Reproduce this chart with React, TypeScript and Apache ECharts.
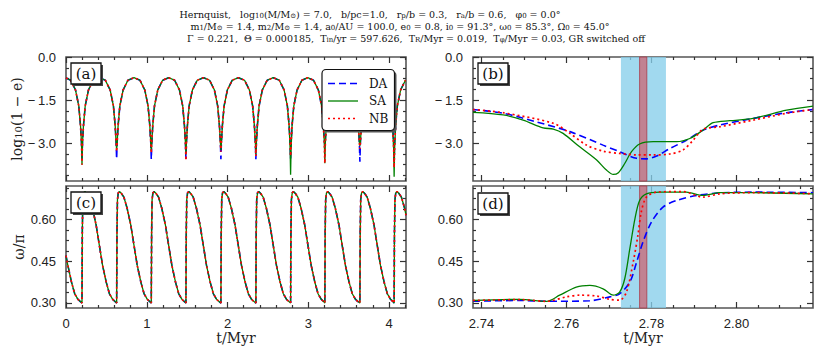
import React, { useEffect, useRef } from "react";
import * as echarts from "echarts";

// ---------- panel (a): log10(1-e) over the full run ----------
const tA = [
  0, 0.058, 0.118, 0.158, 0.18, 0.192, 0.198,
  0.204, 0.216, 0.238, 0.278, 0.338, 0.413,
  0.487, 0.547, 0.587, 0.609, 0.621, 0.627,
  0.633, 0.645, 0.667, 0.707, 0.767, 0.842,
  0.916, 0.976, 1.016, 1.038, 1.05, 1.056,
  1.062, 1.074, 1.096, 1.136, 1.196, 1.271,
  1.345, 1.405, 1.445, 1.467, 1.479, 1.485,
  1.491, 1.503, 1.525, 1.565, 1.625, 1.702,
  1.778, 1.838, 1.878, 1.9, 1.912, 1.918,
  1.924, 1.936, 1.958, 1.998, 2.058, 2.135,
  2.211, 2.271, 2.311, 2.333, 2.345, 2.351,
  2.357, 2.369, 2.391, 2.431, 2.491, 2.566,
  2.641, 2.701, 2.741, 2.763, 2.775, 2.781,
  2.787, 2.799, 2.821, 2.861, 2.921, 2.993,
  3.065, 3.125, 3.165, 3.187, 3.199, 3.205,
  3.211, 3.223, 3.245, 3.285, 3.345, 3.422,
  3.499, 3.559, 3.599, 3.621, 3.633, 3.639,
  3.645, 3.657, 3.679, 3.719, 3.779, 3.851,
  3.923, 3.983, 4.023, 4.045, 4.057, 4.063,
  4.069, 4.081, 4.103, 4.143, 4.203, 4.21,
];
const logeSA = [
  -0.73, -0.81, -1.15, -1.7, -2.4, -3.0, -3.75,
  -3.0, -2.4, -1.7, -1.15, -0.81, -0.72,
  -0.81, -1.15, -1.7, -2.4, -3.0, -3.24,
  -3.0, -2.4, -1.7, -1.15, -0.81, -0.72,
  -0.81, -1.15, -1.7, -2.4, -3.0, -3.3,
  -3.0, -2.4, -1.7, -1.15, -0.81, -0.72,
  -0.81, -1.15, -1.7, -2.4, -3.0, -3.4,
  -3.0, -2.4, -1.7, -1.15, -0.81, -0.72,
  -0.81, -1.15, -1.7, -2.4, -3.0, -3.24,
  -3.0, -2.4, -1.7, -1.15, -0.81, -0.72,
  -0.81, -1.15, -1.7, -2.4, -3.0, -3.4,
  -3.0, -2.4, -1.7, -1.15, -0.81, -0.72,
  -0.81, -1.15, -1.7, -2.4, -3.2, -4.1,
  -3.2, -2.4, -1.7, -1.15, -0.81, -0.72,
  -0.81, -1.15, -1.7, -2.4, -3.0, -3.7,
  -3.0, -2.4, -1.7, -1.15, -0.81, -0.72,
  -0.81, -1.15, -1.7, -2.4, -3.0, -3.1,
  -3.0, -2.4, -1.7, -1.15, -0.81, -0.72,
  -0.81, -1.15, -1.7, -2.4, -3.2, -4.17,
  -3.2, -2.4, -1.7, -1.15, -0.81, -0.8,
];
const logeDA = [
  -0.73, -0.81, -1.15, -1.7, -2.4, -3.0, -3.6,
  -3.0, -2.4, -1.7, -1.15, -0.81, -0.72,
  -0.81, -1.15, -1.7, -2.4, -3.0, -3.56,
  -3.0, -2.4, -1.7, -1.15, -0.81, -0.72,
  -0.81, -1.15, -1.7, -2.4, -3.0, -3.56,
  -3.0, -2.4, -1.7, -1.15, -0.81, -0.72,
  -0.81, -1.15, -1.7, -2.4, -3.0, -3.55,
  -3.0, -2.4, -1.7, -1.15, -0.81, -0.72,
  -0.81, -1.15, -1.7, -2.4, -3.0, -3.56,
  -3.0, -2.4, -1.7, -1.15, -0.81, -0.72,
  -0.81, -1.15, -1.7, -2.4, -3.0, -3.56,
  -3.0, -2.4, -1.7, -1.15, -0.81, -0.72,
  -0.81, -1.15, -1.7, -2.4, -3.0, -3.55,
  -3.0, -2.4, -1.7, -1.15, -0.81, -0.72,
  -0.81, -1.15, -1.7, -2.4, -2.9, -3.1,
  -2.9, -2.4, -1.7, -1.15, -0.81, -0.72,
  -0.81, -1.15, -1.7, -2.4, -3.0, -3.65,
  -3.0, -2.4, -1.7, -1.15, -0.81, -0.72,
  -0.81, -1.15, -1.7, -2.4, -3.0, -3.6,
  -3.0, -2.4, -1.7, -1.15, -0.81, -0.8,
];
const logeNB = [
  -0.73, -0.81, -1.15, -1.7, -2.4, -3.0, -3.75,
  -3.0, -2.4, -1.7, -1.15, -0.81, -0.72,
  -0.81, -1.15, -1.7, -2.4, -3.0, -3.3,
  -3.0, -2.4, -1.7, -1.15, -0.81, -0.72,
  -0.81, -1.15, -1.7, -2.4, -3.0, -3.35,
  -3.0, -2.4, -1.7, -1.15, -0.81, -0.72,
  -0.81, -1.15, -1.7, -2.4, -3.0, -3.6,
  -3.0, -2.4, -1.7, -1.15, -0.81, -0.72,
  -0.81, -1.15, -1.7, -2.4, -3.0, -3.3,
  -3.0, -2.4, -1.7, -1.15, -0.81, -0.72,
  -0.81, -1.15, -1.7, -2.4, -3.0, -3.45,
  -3.0, -2.4, -1.7, -1.15, -0.81, -0.72,
  -0.81, -1.15, -1.7, -2.4, -3.0, -3.45,
  -3.0, -2.4, -1.7, -1.15, -0.81, -0.72,
  -0.81, -1.15, -1.7, -2.4, -3.0, -3.7,
  -3.0, -2.4, -1.7, -1.15, -0.81, -0.72,
  -0.81, -1.15, -1.7, -2.4, -3.0, -3.2,
  -3.0, -2.4, -1.7, -1.15, -0.81, -0.72,
  -0.81, -1.15, -1.7, -2.4, -3.1, -3.85,
  -3.1, -2.4, -1.7, -1.15, -0.81, -0.8,
];

// ---------- panel (c): omega/pi over the full run (the three curves overlap) ----------
const tC = [
  0, 0.023, 0.068, 0.108, 0.148, 0.178, 0.198,
  0.202, 0.208, 0.218, 0.233, 0.258, 0.288, 0.328, 0.373, 0.413, 0.453, 0.498, 0.538, 0.578, 0.608, 0.627,
  0.631, 0.637, 0.647, 0.662, 0.687, 0.717, 0.757, 0.802, 0.842, 0.882, 0.927, 0.967, 1.007, 1.037, 1.056,
  1.06, 1.066, 1.076, 1.091, 1.116, 1.146, 1.186, 1.231, 1.271, 1.311, 1.356, 1.396, 1.436, 1.466, 1.485,
  1.489, 1.495, 1.505, 1.52, 1.545, 1.575, 1.615, 1.66, 1.7, 1.74, 1.785, 1.825, 1.865, 1.895, 1.918,
  1.922, 1.928, 1.938, 1.953, 1.978, 2.008, 2.048, 2.093, 2.133, 2.173, 2.218, 2.258, 2.298, 2.328, 2.351,
  2.355, 2.361, 2.371, 2.386, 2.411, 2.441, 2.481, 2.526, 2.566, 2.606, 2.651, 2.691, 2.731, 2.761, 2.781,
  2.785, 2.791, 2.801, 2.816, 2.841, 2.871, 2.911, 2.956, 2.996, 3.036, 3.081, 3.121, 3.161, 3.191, 3.205,
  3.209, 3.215, 3.225, 3.24, 3.265, 3.295, 3.335, 3.38, 3.42, 3.46, 3.505, 3.545, 3.585, 3.615, 3.639,
  3.643, 3.649, 3.659, 3.674, 3.699, 3.729, 3.769, 3.814, 3.854, 3.894, 3.939, 3.979, 4.019, 4.049, 4.063,
  4.067, 4.073, 4.083, 4.098, 4.123, 4.153, 4.193, 4.21,
];
const omegaC = [
  0.47, 0.435, 0.375, 0.333, 0.313, 0.305, 0.3,
  0.55, 0.67, 0.695, 0.7, 0.693, 0.68, 0.64, 0.58, 0.507, 0.435, 0.375, 0.333, 0.313, 0.305, 0.3,
  0.55, 0.67, 0.695, 0.7, 0.693, 0.68, 0.64, 0.58, 0.507, 0.435, 0.375, 0.333, 0.313, 0.305, 0.3,
  0.55, 0.67, 0.695, 0.7, 0.693, 0.68, 0.64, 0.58, 0.507, 0.435, 0.375, 0.333, 0.313, 0.305, 0.3,
  0.55, 0.67, 0.695, 0.7, 0.693, 0.68, 0.64, 0.58, 0.507, 0.435, 0.375, 0.333, 0.313, 0.305, 0.3,
  0.55, 0.67, 0.695, 0.7, 0.693, 0.68, 0.64, 0.58, 0.507, 0.435, 0.375, 0.333, 0.313, 0.305, 0.3,
  0.55, 0.67, 0.695, 0.7, 0.693, 0.68, 0.64, 0.58, 0.507, 0.435, 0.375, 0.333, 0.313, 0.305, 0.3,
  0.55, 0.67, 0.695, 0.7, 0.693, 0.68, 0.64, 0.58, 0.507, 0.435, 0.375, 0.333, 0.313, 0.305, 0.3,
  0.55, 0.67, 0.695, 0.7, 0.693, 0.68, 0.64, 0.58, 0.507, 0.435, 0.375, 0.333, 0.313, 0.305, 0.3,
  0.55, 0.67, 0.695, 0.7, 0.693, 0.68, 0.64, 0.58, 0.507, 0.435, 0.375, 0.333, 0.313, 0.305, 0.3,
  0.55, 0.67, 0.695, 0.7, 0.693, 0.68, 0.64, 0.615,
];

// ---------- panel (b): log10(1-e), zoom around t = 2.78 Myr ----------
const bDA = [
  [2.738, -1.83], [2.7451, -1.96], [2.7529, -2.26], [2.7608, -2.6], [2.7686, -3.07], [2.7725, -3.3],
  [2.7765, -3.53], [2.7788, -3.55], [2.7812, -3.45], [2.7843, -3.19], [2.7882, -2.9], [2.7921, -2.55],
  [2.7961, -2.37], [2.8039, -2.14], [2.8118, -1.94], [2.818, -1.83],
];
const bSA = [
  [2.738, -1.93], [2.7451, -2.02], [2.7498, -2.2], [2.7545, -2.47], [2.7569, -2.51], [2.7592, -2.66],
  [2.7631, -3.13], [2.7671, -3.59], [2.7694, -3.94], [2.771, -4.09], [2.7722, -4.03], [2.7737, -3.71],
  [2.7753, -3.3], [2.7772, -3.03], [2.7804, -2.95], [2.7859, -2.95], [2.789, -2.84], [2.7921, -2.55],
  [2.7945, -2.29], [2.7984, -2.22], [2.8039, -2.14], [2.8118, -1.85], [2.818, -1.71],
];
const bNB = [
  [2.738, -1.83], [2.745, -1.94], [2.7569, -2.31], [2.7608, -2.66], [2.7647, -3.07], [2.7686, -3.28],
  [2.7725, -3.36], [2.7765, -3.41], [2.7804, -3.41], [2.7843, -3.38], [2.7874, -3.24], [2.7898, -2.9],
  [2.7921, -2.52], [2.7961, -2.43], [2.8039, -2.2], [2.8118, -1.96], [2.818, -1.83],
];

// ---------- panel (d): omega/pi, zoom around t = 2.78 Myr ----------
const dDA = [
  [2.738, 0.306], [2.749, 0.309], [2.7553, 0.306], [2.7655, 0.308], [2.7702, 0.322], [2.7725, 0.333],
  [2.7749, 0.375], [2.7765, 0.447], [2.778, 0.519], [2.78, 0.591], [2.7827, 0.644], [2.7859, 0.668],
  [2.7906, 0.686], [2.7961, 0.695], [2.8039, 0.698], [2.818, 0.696],
];
const dSA = [
  [2.738, 0.309], [2.749, 0.313], [2.7553, 0.306], [2.7584, 0.328], [2.7623, 0.357], [2.7655, 0.363],
  [2.7686, 0.351], [2.771, 0.328], [2.7725, 0.339], [2.7737, 0.387], [2.7749, 0.495], [2.7761, 0.602],
  [2.7772, 0.668], [2.7788, 0.692], [2.7819, 0.698], [2.7882, 0.698], [2.7921, 0.686], [2.7961, 0.696],
  [2.8039, 0.696], [2.818, 0.692],
];
const dNB = [
  [2.738, 0.309], [2.749, 0.312], [2.7553, 0.306], [2.76, 0.322], [2.7631, 0.328], [2.7671, 0.325],
  [2.7702, 0.313], [2.7725, 0.31], [2.7741, 0.339], [2.7757, 0.447], [2.7768, 0.543], [2.7776, 0.627],
  [2.7788, 0.68], [2.7812, 0.698], [2.7874, 0.7], [2.7921, 0.68], [2.7961, 0.692], [2.8039, 0.696],
  [2.8118, 0.695], [2.818, 0.692],
];

// shaded time windows (Myr)
const bandBlue = [2.7728, 2.7834];
const bandRed = [2.7772, 2.7789];

// ---------- ticks ----------
const xMajA = [0, 1, 2, 3, 4];
const xMinA = [0.2, 0.4, 0.6, 0.8, 1.2, 1.4, 1.6, 1.8, 2.2, 2.4, 2.6, 2.8, 3.2, 3.4, 3.6, 3.8, 4.2];
const xMajB = [2.74, 2.76, 2.78, 2.8];
const xMinB = [2.745, 2.75, 2.755, 2.765, 2.77, 2.775, 2.785, 2.79, 2.795, 2.805, 2.81, 2.815];
const yMajA = [0, -1.5, -3.0];
const yMinA = [-0.375, -0.75, -1.125, -1.875, -2.25, -2.625, -3.375, -3.75, -4.125];
const yMajC = [0.3, 0.45, 0.6];
const yMinC = [0.3375, 0.375, 0.4125, 0.4875, 0.525, 0.5625, 0.6375, 0.675, 0.7125];

const legendNames = ["DA", "SA", "NB"];

const SERIF = "'DejaVu Serif', serif";
const SANS = "'Liberation Sans', Arial, sans-serif";
const FRAME = "#555";

const fmtLog = (v: number) => (Math.abs(v) < 1e-9 ? "0.0" : "\u2212\u2009" + Math.abs(v).toFixed(1));
const fmtOm = (v: number) => v.toFixed(2);
const fmtInt = (v: number) => String(Math.round(v));
const fmtB = (v: number) => v.toFixed(2);

function axisSet(
  kind: "x" | "y",
  grid: number,
  min: number,
  max: number,
  majors: number[],
  minors: number[],
  opts: any
) {
  const main = kind === "x" ? "bottom" : "left";
  const mirror = kind === "x" ? "top" : "right";
  const base = (pos: string, vals: number[], len: number, labels: boolean) => ({
    type: "value",
    gridIndex: grid,
    min,
    max,
    position: pos,
    axisLine: { show: false, onZero: false },
    splitLine: { show: false },
    axisTick: {
      show: true,
      inside: true,
      length: len,
      customValues: vals,
      lineStyle: { color: "#333", width: 1.2 },
    },
    axisLabel: labels
      ? {
          show: true,
          customValues: vals,
          formatter: opts.fmt,
          margin: opts.margin,
          color: "#222",
          fontFamily: SANS,
          fontSize: 13,
        }
      : { show: false },
  });
  const a0: any = base(main, majors, 6, !!opts.labels);
  if (opts.name) {
    a0.name = opts.name;
    a0.nameLocation = "middle";
    a0.nameGap = opts.nameGap;
    a0.nameTextStyle = {
      fontFamily: SERIF,
      fontSize: 14,
      color: "#222",
      rich: { s: { fontFamily: SERIF, fontSize: 10, verticalAlign: "bottom", lineHeight: 8 } },
    };
  }
  return [a0, base(main, minors, 3, false), base(mirror, majors, 6, false), base(mirror, minors, 3, false)];
}

const daStyle = { color: "#0000ff", width: 1.6, type: [7, 4] };
const saStyle = { color: "#008000", width: 1.3, type: "solid" };
const nbStyle = { color: "#ff0000", width: 1.7, type: [2, 3] };
const legendStyles = [daStyle, saStyle, nbStyle];

function line(name: string, grid: number, data: number[][], style: any, smooth: any) {
  return {
    type: "line",
    name,
    xAxisIndex: grid * 4,
    yAxisIndex: grid * 4,
    data,
    symbol: "none",
    showSymbol: false,
    smooth,
    lineStyle: style,
    itemStyle: { color: style.color },
    silent: true,
    z: 3,
  };
}

function bands(grid: number) {
  return {
    type: "line",
    name: "bands",
    xAxisIndex: grid * 4,
    yAxisIndex: grid * 4,
    data: [],
    silent: true,
    z: 1,
    markArea: {
      silent: true,
      data: [
        [{ xAxis: bandBlue[0], itemStyle: { color: "rgba(135,206,235,0.78)" } }, { xAxis: bandBlue[1] }],
        [
          {
            xAxis: bandRed[0],
            itemStyle: { color: "rgba(205,95,110,0.72)", borderColor: "rgba(170,60,75,0.8)", borderWidth: 1 },
          },
          { xAxis: bandRed[1] },
        ],
      ],
    },
  };
}

function panelLabel(text: string, x: number, y: number) {
  return [
    { type: "rect", z: 20, shape: { x: x + 2, y: y + 2, width: 30, height: 21 }, style: { fill: "#444" } },
    {
      type: "rect",
      z: 21,
      shape: { x, y, width: 30, height: 21 },
      style: { fill: "#fff", stroke: "#111", lineWidth: 1.3 },
    },
    {
      type: "text",
      z: 22,
      x: x + 15,
      y: y + 10.5,
      style: {
        text,
        fill: "#111",
        fontFamily: SERIF,
        fontSize: 15,
        textAlign: "center",
        textVerticalAlign: "middle",
      },
    },
  ];
}

function legendBox() {
  const x = 322;
  const y = 69.5;
  const w = 72.5;
  const h = 61;
  const out: any[] = [
    { type: "rect", z: 30, shape: { x: x + 2, y: y + 2, width: w, height: h, r: 4 }, style: { fill: "#555" } },
    {
      type: "rect",
      z: 31,
      shape: { x, y, width: w, height: h, r: 4 },
      style: { fill: "#fff", stroke: "#111", lineWidth: 1.2 },
    },
  ];
  legendNames.forEach((n, i) => {
    const cy = 83.5 + i * 17.5;
    const st = legendStyles[i];
    out.push({
      type: "line",
      z: 32,
      shape: { x1: 328, y1: cy, x2: 358, y2: cy },
      style: {
        stroke: st.color,
        lineWidth: st.width,
        lineDash: Array.isArray(st.type) ? st.type : null,
      },
    });
    out.push({
      type: "text",
      z: 32,
      x: 369,
      y: cy,
      style: {
        text: n,
        fill: "#111",
        fontFamily: SERIF,
        fontSize: 12,
        textAlign: "left",
        textVerticalAlign: "middle",
      },
    });
  });
  return out;
}

const titleRich = { s: { fontFamily: SERIF, fontSize: 7, verticalAlign: "bottom", lineHeight: 3, fill: "#111" } };
const titleLines = [
  "Hernquist,   log{s|10}(M/M{s|\u2299}) = 7.0,   b/pc=1.0,   r{s|p}/b = 0.3,   r{s|a}/b = 0.6,   \u03c6{s|0} = 0.0\u00b0",
  "m{s|1}/M{s|\u2299} = 1.4, m{s|2}/M{s|\u2299} = 1.4, a{s|0}/AU = 100.0, e{s|0} = 0.8, i{s|0} = 91.3\u00b0, \u03c9{s|0} = 85.3\u00b0, \u03a9{s|0} = 45.0\u00b0",
  "\u0393 = 0.221,  \u0398 = 0.000185,  T{s|in}/yr = 597.626,  T{s|R}/Myr = 0.019,  T{s|\u03c6}/Myr = 0.03, GR switched off",
];
const titleCenters = [
  [370, 14],
  [400, 26],
  [416, 38],
];

function buildOption() {
  const zip = (t: number[], v: number[]) => t.map((x, i) => [x, v[i]]);
  return {
    animation: false,
    backgroundColor: "#fff",
    grid: [
      { left: 66, top: 57, width: 340, height: 124, show: true, borderColor: FRAME, borderWidth: 1.6, backgroundColor: "transparent" },
      { left: 473, top: 57, width: 340, height: 124, show: true, borderColor: FRAME, borderWidth: 1.6, backgroundColor: "transparent" },
      { left: 66, top: 186, width: 340, height: 122, show: true, borderColor: FRAME, borderWidth: 1.6, backgroundColor: "transparent" },
      { left: 473, top: 186, width: 340, height: 122, show: true, borderColor: FRAME, borderWidth: 1.6, backgroundColor: "transparent" },
    ],
    xAxis: [
      ...axisSet("x", 0, 0, 4.21, xMajA, xMinA, {}),
      ...axisSet("x", 1, 2.738, 2.818, xMajB, xMinB, {}),
      ...axisSet("x", 2, 0, 4.21, xMajA, xMinA, { labels: true, fmt: fmtInt, margin: 9, name: "t/Myr", nameGap: 22 }),
      ...axisSet("x", 3, 2.738, 2.818, xMajB, xMinB, { labels: true, fmt: fmtB, margin: 9, name: "t/Myr", nameGap: 22 }),
    ],
    yAxis: [
      ...axisSet("y", 0, -4.32, 0, yMajA, yMinA, { labels: true, fmt: fmtLog, margin: 10, name: "log{s|10}(1 \u2212 e)", nameGap: 42 }),
      ...axisSet("y", 1, -4.32, 0, yMajA, yMinA, { labels: true, fmt: fmtLog, margin: 10 }),
      ...axisSet("y", 2, 0.282, 0.72, yMajC, yMinC, { labels: true, fmt: fmtOm, margin: 10, name: "\u03c9/\u03c0", nameGap: 40 }),
      ...axisSet("y", 3, 0.282, 0.72, yMajC, yMinC, { labels: true, fmt: fmtOm, margin: 10 }),
    ],
    graphic: [
      ...titleLines.map((txt, i) => ({
        type: "text",
        z: 5,
        x: titleCenters[i][0],
        y: titleCenters[i][1],
        style: {
          text: txt,
          fill: "#111",
          fontFamily: SERIF,
          fontSize: 9.5,
          lineHeight: 11,
          textAlign: "center",
          textVerticalAlign: "middle",
          rich: titleRich,
        },
      })),
      ...legendBox(),
      ...panelLabel("(a)", 71, 63),
      ...panelLabel("(b)", 478, 63),
      ...panelLabel("(c)", 71, 192),
      ...panelLabel("(d)", 478, 193),
    ],
    series: [
      line("DA", 0, zip(tA, logeDA), daStyle, false),
      line("SA", 0, zip(tA, logeSA), saStyle, false),
      line("NB", 0, zip(tA, logeNB), nbStyle, false),
      line("DA", 2, zip(tC, omegaC), daStyle, false),
      line("SA", 2, zip(tC, omegaC), saStyle, false),
      line("NB", 2, zip(tC, omegaC), nbStyle, false),
      bands(1),
      line("DA", 1, bDA, daStyle, 0.3),
      line("SA", 1, bSA, saStyle, 0.3),
      line("NB", 1, bNB, nbStyle, 0.3),
      bands(3),
      line("DA", 3, dDA, daStyle, 0.3),
      line("SA", 3, dSA, saStyle, 0.3),
      line("NB", 3, dNB, nbStyle, 0.3),
    ],
  };
}

export default function App() {
  const ref = useRef<HTMLDivElement>(null);
  useEffect(() => {
    if (!ref.current) return;
    const chart = echarts.init(ref.current, undefined, { renderer: "svg" });
    chart.setOption(buildOption() as any);
    return () => chart.dispose();
  }, []);
  return (
    <div
      ref={ref}
      style={{ position: "absolute", left: 0, top: 0, width: 822, height: 357, background: "#fff" }}
    />
  );
}
